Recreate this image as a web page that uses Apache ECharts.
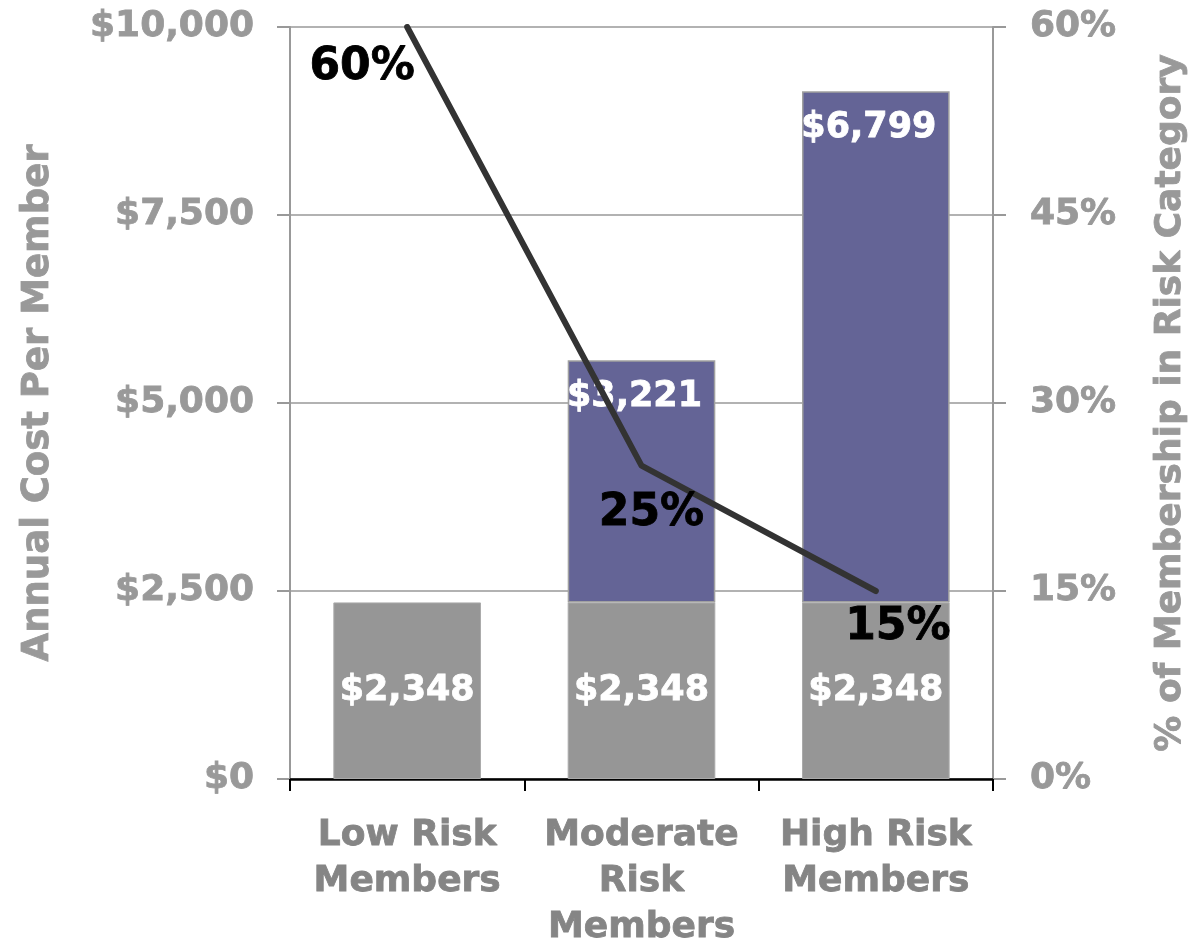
<!DOCTYPE html>
<html>
<head>
<meta charset="utf-8">
<script src="https://cdn.jsdelivr.net/npm/echarts@6/dist/echarts.min.js"></script>
<style>
  html, body { margin: 0; padding: 0; background: #fff; overflow: hidden; }
  #chart { width: 1194px; height: 943px; }
</style>
</head>
<body>
<div id="chart"></div>
<script>
const categories = ['Low Risk\nMembers', 'Moderate\nRisk\nMembers', 'High Risk\nMembers'];
const baseCost = [2348, 2348, 2348];
const extraCost = [null, 3221, 6799];
const membershipPct = [60, 25, 15];
const costTicks = { min: 0, max: 10000, interval: 2500 };
const pctTicks = { min: 0, max: 60, interval: 15 };
const pctLabelOffsets = [[-45, 41], [10, 48], [22, 37]];

const FONT = '"DejaVu Sans", sans-serif';
const chart = echarts.init(document.getElementById('chart'));

function money(v) {
  return '$' + Number(v).toLocaleString('en-US');
}

chart.setOption({
  animation: false,
  backgroundColor: '#ffffff',
  grid: { left: 290, right: 201, top: 27, bottom: 164, containLabel: false, outerBoundsMode: 'none' },
  xAxis: {
    type: 'category',
    data: categories,
    boundaryGap: true,
    axisLine: { lineStyle: { color: '#000', width: 2.5 } },
    axisTick: { show: true, length: 12, lineStyle: { color: '#000', width: 2 } },
    axisLabel: {
      color: '#858585', fontFamily: FONT, fontWeight: 'bold', fontSize: 36,
      lineHeight: 46, margin: 34, interval: 0,
      textBorderColor: '#858585', textBorderWidth: 0.8
    }
  },
  yAxis: [
    {
      type: 'value',
      min: costTicks.min, max: costTicks.max, interval: costTicks.interval,
      name: 'Annual Cost Per Member',
      nameLocation: 'middle', nameRotate: 90, nameGap: 233,
      nameTextStyle: { color: '#999', fontFamily: FONT, fontWeight: 'bold', fontSize: 37,
        textBorderColor: '#999', textBorderWidth: 0.8 },
      axisLine: { show: true, lineStyle: { color: '#999', width: 2 } },
      axisTick: { show: true, length: 13, lineStyle: { color: '#999', width: 2 } },
      axisLabel: {
        color: '#999', fontFamily: FONT, fontWeight: 'bold', fontSize: 36, margin: 36,
        textBorderColor: '#999', textBorderWidth: 0.8,
        formatter: money
      },
      splitLine: { show: true, lineStyle: { color: '#999', width: 1.5 } }
    },
    {
      type: 'value',
      min: pctTicks.min, max: pctTicks.max, interval: pctTicks.interval,
      name: '% of Membership in Risk Category',
      nameLocation: 'middle', nameRotate: 90, nameGap: 160,
      nameTextStyle: { color: '#999', fontFamily: FONT, fontWeight: 'bold', fontSize: 36,
        textBorderColor: '#999', textBorderWidth: 0.8 },
      axisLine: { show: true, lineStyle: { color: '#999', width: 2 } },
      axisTick: { show: true, length: 13, lineStyle: { color: '#999', width: 2 } },
      axisLabel: {
        color: '#999', fontFamily: FONT, fontWeight: 'bold', fontSize: 36, margin: 37,
        textBorderColor: '#999', textBorderWidth: 0.8,
        formatter: '{value}%'
      },
      splitLine: { show: false }
    }
  ],
  series: [
    {
      type: 'bar',
      stack: 'cost',
      data: baseCost,
      barWidth: '63%',
      itemStyle: { color: '#969696', borderColor: '#aaaaaa', borderWidth: 1 },
      label: {
        show: true, position: 'inside', color: '#fff',
        fontFamily: FONT, fontWeight: 'bold', fontSize: 35,
        textBorderColor: '#fff', textBorderWidth: 0.8,
        formatter: p => money(p.value)
      }
    },
    {
      type: 'bar',
      stack: 'cost',
      data: extraCost,
      barWidth: '63%',
      itemStyle: { color: '#646496', borderColor: '#a0a0a0', borderWidth: 1.5 },
      label: {
        show: true, position: 'insideTop', distance: 19, offset: [-7, 0], color: '#fff',
        fontFamily: FONT, fontWeight: 'bold', fontSize: 35,
        textBorderColor: '#fff', textBorderWidth: 0.8,
        formatter: p => money(p.value)
      }
    },
    {
      type: 'line',
      yAxisIndex: 1,
      data: membershipPct.map((v, i) => ({
        value: v,
        label: { offset: pctLabelOffsets[i] }
      })),
      symbol: 'circle',
      symbolSize: 1,
      showSymbol: true,
      itemStyle: { color: '#333333' },
      lineStyle: { color: '#333333', width: 6, cap: 'round', join: 'round' },
      label: {
        show: true, position: 'inside', color: '#000',
        fontFamily: FONT, fontWeight: 'bold', fontSize: 44,
        textBorderColor: '#000', textBorderWidth: 0.8,
        align: 'center', verticalAlign: 'middle',
        formatter: '{c}%'
      },
      z: 5
    }
  ]
});
</script>
</body>
</html>
